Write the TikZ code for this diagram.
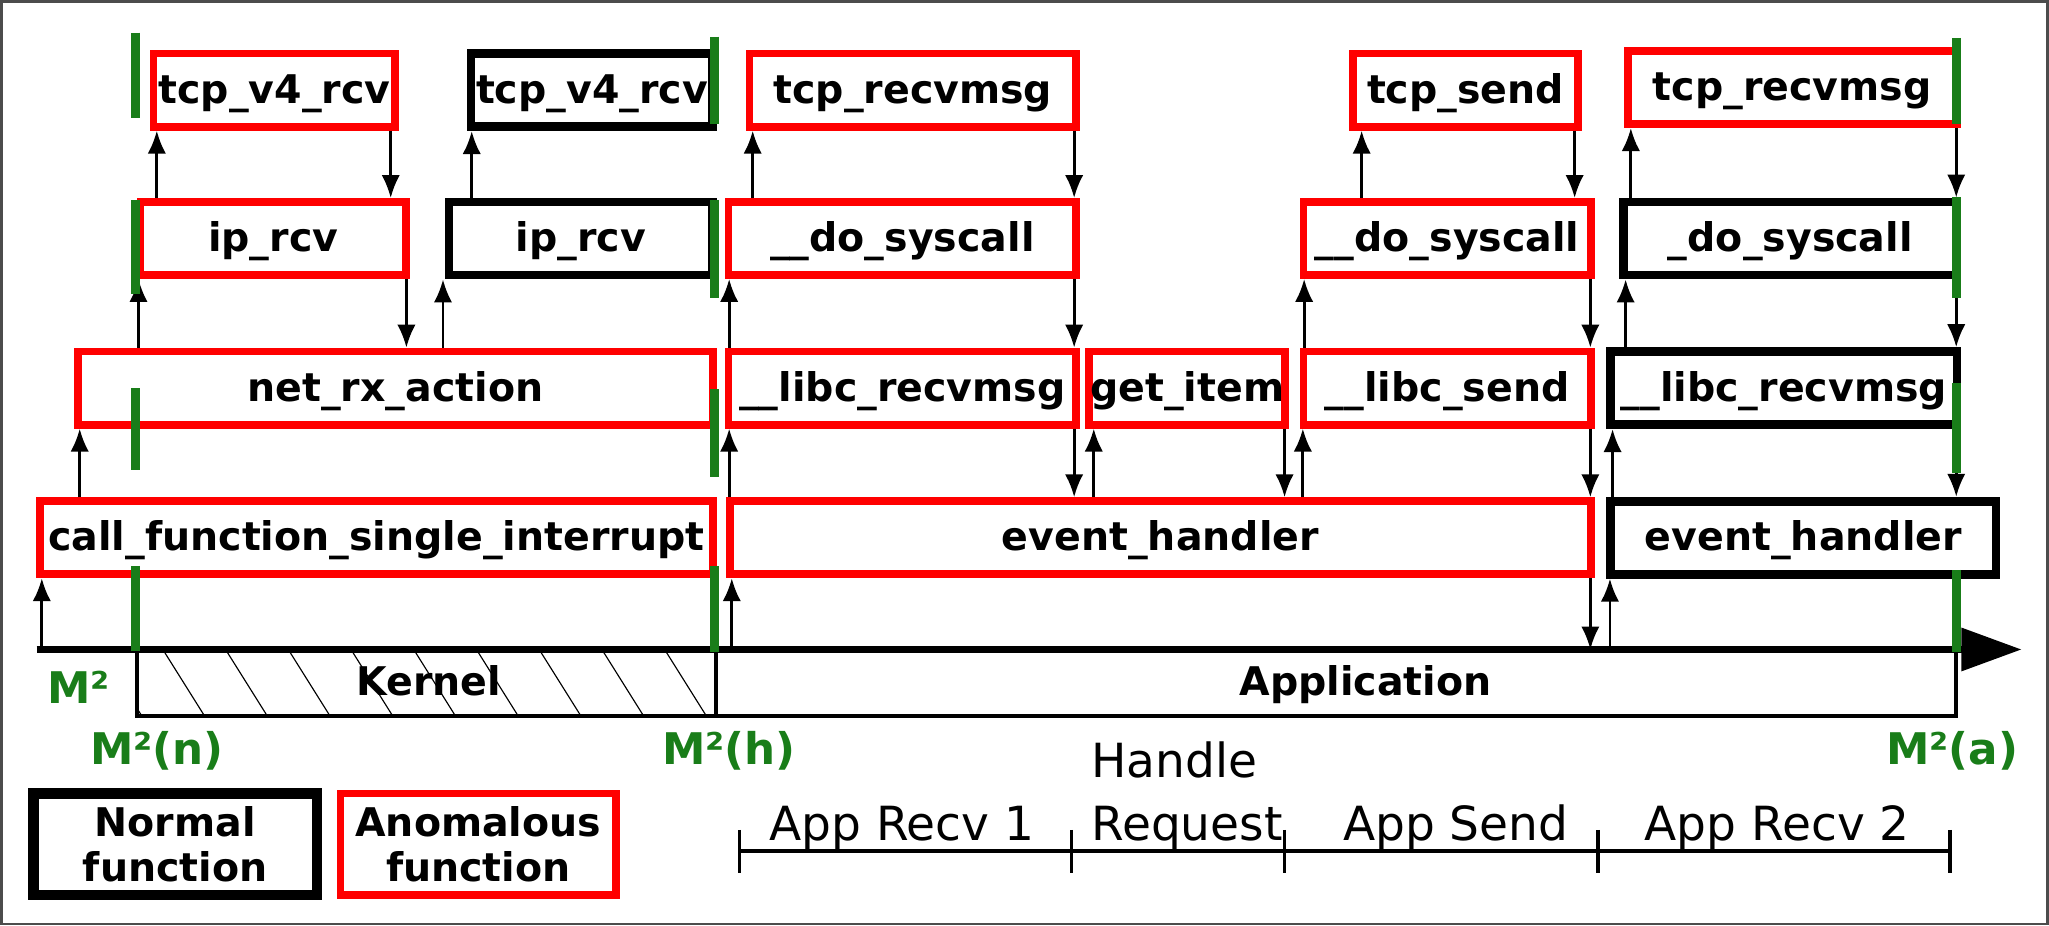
\documentclass[tikz,border=0pt]{standalone}
\usepackage{fontspec}
\setmainfont{DejaVu Sans}
\usepackage{xcolor}
\usetikzlibrary{arrows.meta}
\definecolor{mgreen}{RGB}{25,125,25}

\begin{document}
\begin{tikzpicture}[x=0.02cm,y=-0.02cm,
	fn/.style={draw,inner sep=0pt,minimum height=1.12cm,text height=14pt,text depth=2.6pt,font=\fontsize{17.2}{20}\selectfont\bfseries},
	anom/.style={fn,draw=red,line width=3.4pt},
	norm/.style={fn,draw=black,line width=3.8pt},
	call/.style={-{Latex[length=10pt,width=8pt]},line width=1.2pt},
	gbar/.style={mgreen,line width=4pt},
	mlabel/.style={mgreen,font=\fontsize{19}{22}\selectfont\bfseries,anchor=base},
	legend/.style={draw,inner sep=0pt,align=center,minimum height=1.55cm,font=\fontsize{17.2}{19.5}\selectfont\bfseries},
	phase/.style={font=\fontsize{20.5}{27}\selectfont,anchor=base}]
	\useasboundingbox (0,0) rectangle (1568,708);
	\draw[gray!60!black,line width=1.2pt] (1,1) rectangle (1567,707);

	% kernel functions
	\node[anom,minimum width=3.70cm] (tcpA) at (210,69) {tcp\_v4\_rcv};
	\node[norm,minimum width=3.70cm] (tcpB) at (453,69) {tcp\_v4\_rcv};
	\node[anom,minimum width=4.06cm] (ipA) at (209,182.5) {ip\_rcv};
	\node[norm,minimum width=4.04cm] (ipB) at (444.5,182.5) {ip\_rcv};
	\node[anom,minimum width=9.72cm] (netrx) at (302.5,297) {net\_rx\_action};
	\node[anom,minimum width=10.30cm] (cfsi) at (288,411.5) {call\_function\_single\_interrupt};

	% application functions
	\node[anom,minimum width=5.00cm] (trecvA) at (698.5,69) {tcp\_recvmsg};
	\node[anom,minimum width=3.44cm] (tsend) at (1121.5,69) {tcp\_send};
	\node[anom,minimum width=5.04cm] (trecvB) at (1371.5,67) {tcp\_recvmsg};
	\node[anom,minimum width=5.32cm] (dsysA) at (690.5,182.5) {\_\_do\_syscall};
	\node[anom,minimum width=4.40cm] (dsysB) at (1107.5,182.5) {\_\_do\_syscall};
	\node[norm,minimum width=5.10cm] (dsysC) at (1370,182.5) {\_do\_syscall};
	\node[anom,minimum width=5.32cm] (lrecvA) at (690.5,297) {\_\_libc\_recvmsg};
	\node[anom,minimum width=3.00cm] (getitem) at (908.5,297) {get\_item};
	\node[anom,minimum width=4.40cm] (lsend) at (1107.5,297) {\_\_libc\_send};
	\node[norm,minimum width=5.30cm] (lrecvB) at (1365,297) {\_\_libc\_recvmsg};
	\node[anom,minimum width=13.18cm] (evA) at (888,411.5) {event\_handler};
	\node[norm,minimum width=5.90cm] (evB) at (1380,411.5) {event\_handler};

	% time axis and modes
	\coordinate (ax) at (28,497);
	\coordinate (axend) at (1547,497);
	\begin{scope}
		\clip (105,497) rectangle (548,548);
		\foreach \i in {0,...,9}
			\draw[line width=0.5pt] ({76.6+48*\i},497) -- ({108.6+48*\i},548);
	\end{scope}
	\draw[line width=1.8pt] (105,497) rectangle (548,548);
	\draw[line width=1.8pt] (548,497) rectangle (1497,548);
	\draw[line width=3pt,-{Triangle[length=0.92cm,width=0.64cm]}] (ax) -- (axend);
	\node[font=\fontsize{17.2}{20}\selectfont\bfseries,anchor=base] (kern) at (328,532) {Kernel};
	\node[font=\fontsize{17.2}{20}\selectfont\bfseries,anchor=base] (appl) at (1045,532) {Application};

	% calls and returns
	\draw[call] (ax -| 32,0) -- (cfsi.south -| 32,0);
	\draw[call] (cfsi.north -| 61,0) -- (netrx.south -| 61,0);
	\draw[call] (netrx.north -| 106,0) -- (ipA.south -| 106,0);
	\draw[call] (ipA.north -| 120,0) -- (tcpA.south -| 120,0);
	\draw[call] (tcpA.south -| 299,0) -- (ipA.north -| 299,0);
	\draw[call] (ipA.south -| 311,0) -- (netrx.north -| 311,0);
	\draw[call] (netrx.north -| 339,0) -- (ipB.south -| 339,0);
	\draw[call] (ipB.north -| 361,0) -- (tcpB.south -| 361,0);
	\draw[call] (ax -| 560,0) -- (evA.south -| 560,0);
	\draw[call] (evA.north -| 558,0) -- (lrecvA.south -| 558,0);
	\draw[call] (lrecvA.north -| 558,0) -- (dsysA.south -| 558,0);
	\draw[call] (dsysA.north -| 576,0) -- (trecvA.south -| 576,0);
	\draw[call] (trecvA.south -| 822,0) -- (dsysA.north -| 822,0);
	\draw[call] (dsysA.south -| 822,0) -- (lrecvA.north -| 822,0);
	\draw[call] (lrecvA.south -| 822,0) -- (evA.north -| 822,0);
	\draw[call] (evA.north -| 837,0) -- (getitem.south -| 837,0);
	\draw[call] (getitem.south -| 983,0) -- (evA.north -| 983,0);
	\draw[call] (evA.north -| 997,0) -- (lsend.south -| 997,0);
	\draw[call] (lsend.north -| 998,0) -- (dsysB.south -| 998,0);
	\draw[call] (dsysB.north -| 1042,0) -- (tsend.south -| 1042,0);
	\draw[call] (tsend.south -| 1205,0) -- (dsysB.north -| 1205,0);
	\draw[call] (dsysB.south -| 1217,0) -- (lsend.north -| 1217,0);
	\draw[call] (lsend.south -| 1217,0) -- (evA.north -| 1217,0);
	\draw[call] (evA.south -| 1217,0) -- (ax -| 1217,0);
	\draw[call] (ax -| 1232,0) -- (evB.south -| 1232,0);
	\draw[call] (evB.north -| 1234,0) -- (lrecvB.south -| 1234,0);
	\draw[call] (lrecvB.north -| 1244,0) -- (dsysC.south -| 1244,0);
	\draw[call] (dsysC.north -| 1248,0) -- (trecvB.south -| 1248,0);
	\draw[call] (trecvB.south -| 1497,0) -- (dsysC.north -| 1497,0);
	\draw[call] (dsysC.south -| 1497,0) -- (lrecvB.north -| 1497,0);
	\draw[call] (lrecvB.south -| 1497,0) -- (evB.north -| 1497,0);

	% measurement points
	\foreach \x/\a/\b/\c/\d/\e/\f/\g/\h in {104/25/90/153/225/297/360/433/498, 547/28/95/153/228/298/365/433/499, 1497/29/95/151/228/293/362/436/499}{
		\draw[gbar] (\x,\a) -- (\x,\b);
		\draw[gbar] (\x,\c) -- (\x,\d);
		\draw[gbar] (\x,\e) -- (\x,\f);
		\draw[gbar] (\x,\g) -- (\x,\h);
	}
	\node[mlabel,anchor=base west] (mall) at (30,538) {M²};
	\node[mlabel] (mn) at (120,585) {M²(n)};
	\node[mlabel] (mh) at (558,585) {M²(h)};
	\node[mlabel] (ma) at (1494,585) {M²(a)};

	% legend
	\node[legend,line width=4.5pt,minimum width=4.34cm] (lnorm) at (134,646) {Normal\\function};
	\node[legend,draw=red,line width=3.4pt,minimum width=4.22cm] (lanom) at (366,646) {Anomalous\\function};

	% phases
	\draw[line width=1.6pt] (566,651) -- (1492,651);
	\foreach \x in {566,820,983,1223,1492}
		\draw[line width=1.6pt] (\x,635) -- (\x,668);
	\node[phase] (recva) at (690,643) {App Recv 1};
	\node[phase,anchor=base west] (hdl) at (829,595) {Handle};
	\node[phase,anchor=base west] (req) at (829,643) {Request};
	\node[phase] (sendp) at (1114,643) {App Send};
	\node[phase] (recvb) at (1360,643) {App Recv 2};
\end{tikzpicture}
\end{document}
